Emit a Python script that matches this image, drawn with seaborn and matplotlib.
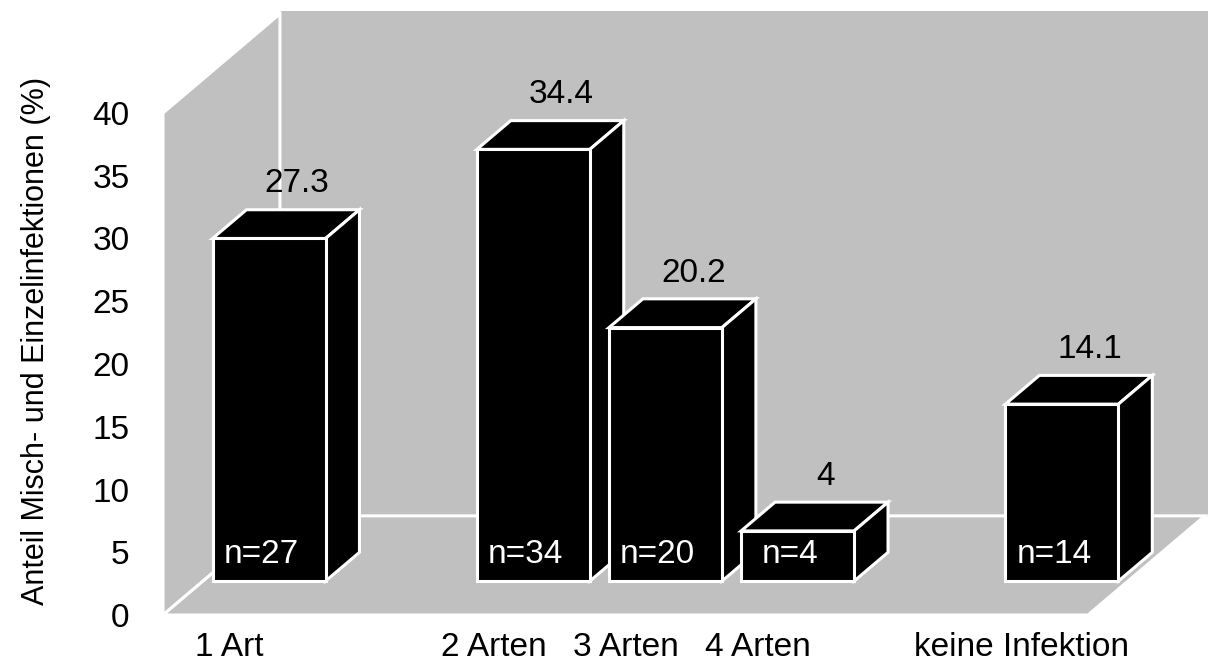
import matplotlib
matplotlib.use("Agg")
import matplotlib.pyplot as plt
from matplotlib.patches import Polygon
from matplotlib.transforms import Affine2D
import pandas as pd
import seaborn as sns

# Infection categories, share of samples (%) and sample counts
categories = ["1 Art", "2 Arten", "3 Arten", "4 Arten", "keine Infektion"]
shares = [27.3, 34.4, 20.2, 4.0, 14.1]
counts = [27, 34, 20, 4, 14]
# category slots along the x axis (blank slots leave gaps)
slot_order = ["1 Art", " ", "2 Arten", "3 Arten", "4 Arten", "  ", "keine Infektion"]
y_ticks = [0, 5, 10, 15, 20, 25, 30, 35, 40]
y_label = "Anteil Misch- und Einzelinfektionen (%)"

sns.set_theme(style="white")
plt.rcParams["font.family"] = ["Liberation Sans", "DejaVu Sans"]

WALL = "#c0c0c0"
EDGE_LW = 2.2
DEPTH_X, DEPTH_Y = 0.885, 7.9        # depth of the floor in data units
BAR_FRONT, BAR_BACK = 0.342, 0.632    # bar placement along the depth
BAR_WIDTH = 0.855
Y_MAX_AXIS = 40

fig = plt.figure(figsize=(12.08, 6.64), dpi=100)
ax = fig.add_axes([163 / 1208, 49 / 664, 1045 / 1208, 604 / 664])

df = pd.DataFrame({"Kategorie": categories, "Anteil": shares})
sns.barplot(data=df, x="Kategorie", y="Anteil", order=slot_order,
            color="black", saturation=1, width=BAR_WIDTH, errorbar=None,
            edgecolor="white", linewidth=EDGE_LW, ax=ax)
bars = list(ax.patches)

ymax = 604 / 12.55
xmin, xmax = -0.5, -0.5 + 1045 / 132.14
ax.set_xlim(xmin, xmax)
ax.set_ylim(0, ymax)

# walls and floor of the box
x_left, x_right = -0.5, len(slot_order) - 0.5
ax.add_patch(Polygon([(x_left + DEPTH_X, DEPTH_Y), (xmax + 0.1, DEPTH_Y),
                      (xmax + 0.1, ymax + 1), (x_left + DEPTH_X, ymax + 1)],
                     closed=True, fc=WALL, ec="none", zorder=0.5))
ax.add_patch(Polygon([(x_left, 0), (x_left + DEPTH_X, DEPTH_Y),
                      (x_left + DEPTH_X, Y_MAX_AXIS + DEPTH_Y), (x_left, Y_MAX_AXIS)],
                     closed=True, fc=WALL, ec="white", lw=EDGE_LW, zorder=1))
ax.add_patch(Polygon([(x_left, 0), (x_right, 0), (x_right + DEPTH_X, DEPTH_Y),
                      (x_left + DEPTH_X, DEPTH_Y)],
                     closed=True, fc=WALL, ec="white", lw=EDGE_LW, zorder=1))

# 3D bars: shift the front faces into the box and add top and side faces
fx, fy = BAR_FRONT * DEPTH_X, BAR_FRONT * DEPTH_Y
bx, by = (BAR_BACK - BAR_FRONT) * DEPTH_X, (BAR_BACK - BAR_FRONT) * DEPTH_Y
shift = Affine2D().translate(fx, fy) + ax.transData
for bar in bars:
    x0, w, h = bar.get_x(), bar.get_width(), bar.get_height()
    idx = int(round(x0 + w / 2))
    z = 3 + idx * 0.1
    bar.set_transform(shift)
    bar.set_zorder(z + 0.05)
    bar.set_joinstyle("miter")
    face_kw = dict(closed=True, fc="black", ec="white", lw=EDGE_LW,
                   joinstyle="miter", transform=shift, zorder=z)
    ax.add_patch(Polygon([(x0, h), (x0 + w, h), (x0 + w + bx, h + by),
                          (x0 + bx, h + by)], **face_kw))
    ax.add_patch(Polygon([(x0 + w, 0), (x0 + w + bx, by), (x0 + w + bx, h + by),
                          (x0 + w, h)], **face_kw))
    # value above the bar
    ax.text(x0 + w / 2 + fx + 0.212, h + BAR_BACK * DEPTH_Y + 2.05, f"{h:g}",
            ha="center", va="center", fontsize=24, color="black", zorder=10)
    # sample count on the front face
    n = counts[categories.index(slot_order[idx])]
    ax.text(x0 + w / 2 + fx - 0.06, fy + 2.1, f"n={n}",
            ha="center", va="center", fontsize=24, color="white", zorder=10)

ax.set_yticks(y_ticks)
ax.tick_params(axis="both", length=0, labelsize=24, colors="black")
ax.tick_params(axis="y", pad=24)
ax.tick_params(axis="x", pad=12.5)
ax.set_xlabel("")
ax.set_ylabel(y_label, fontsize=22, color="black")
ax.yaxis.set_label_coords(36 / 1208, 1 - 341 / 664, transform=fig.transFigure)
ax.yaxis.label.set_va("center")
for s in ax.spines.values():
    s.set_visible(False)
ax.set_facecolor("white")
ax.patch.set_alpha(0)

fig.savefig("out.png", dpi=100, facecolor="white")
